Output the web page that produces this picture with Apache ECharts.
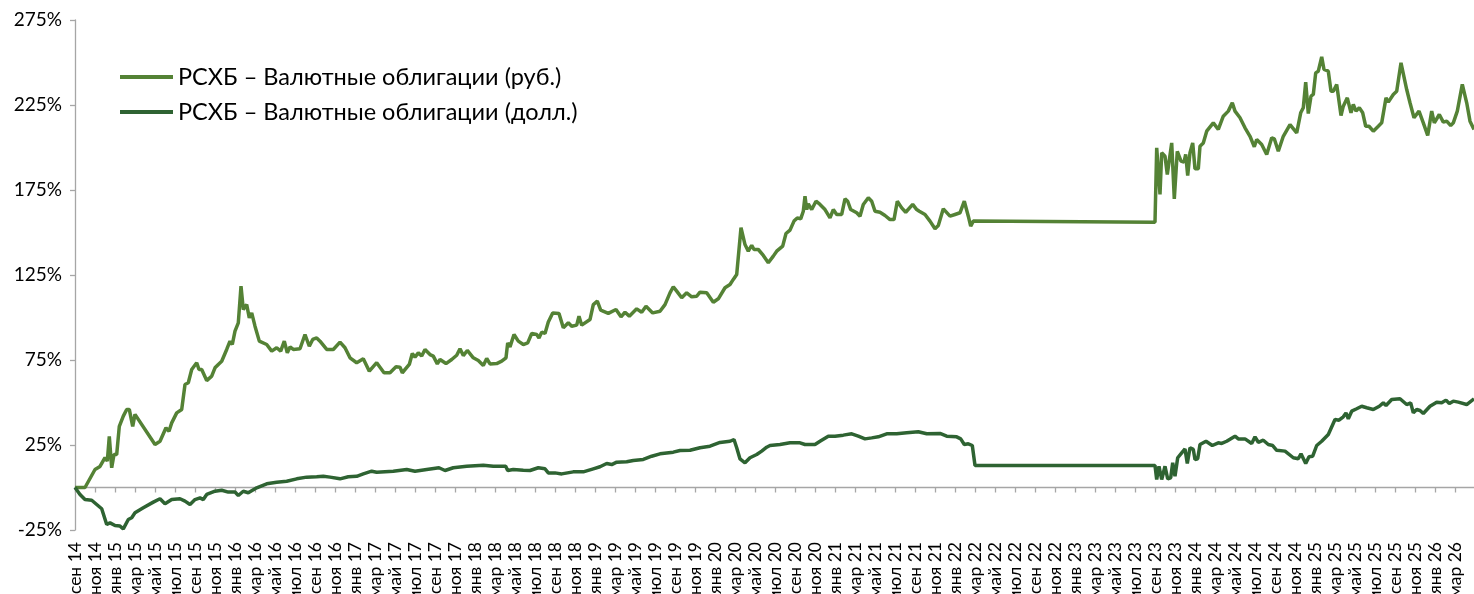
<!DOCTYPE html>
<html>
<head>
<meta charset="utf-8">
<script src="https://cdn.jsdelivr.net/npm/echarts@6/dist/echarts.min.js"></script>
<style>
html,body{margin:0;padding:0;background:#fff;}
#c{width:1474px;height:594px;}
</style>
</head>
<body>
<div id="c"></div>
<script>
// x = months since сен 2014
const tickLabels = ["сен 14","ноя 14","янв 15","мар 15","май 15","июл 15","сен 15","ноя 15","янв 16","мар 16","май 16","июл 16","сен 16","ноя 16","янв 17","мар 17","май 17","июл 17","сен 17","ноя 17","янв 18","мар 18","май 18","июл 18","сен 18","ноя 18","янв 19","мар 19","май 19","июл 19","сен 19","ноя 19","янв 20","мар 20","май 20","июл 20","сен 20","ноя 20","янв 21","мар 21","май 21","июл 21","сен 21","ноя 21","янв 22","мар 22","май 22","июл 22","сен 22","ноя 22","янв 23","мар 23","май 23","июл 23","сен 23","ноя 23","янв 24","мар 24","май 24","июл 24","сен 24","ноя 24","янв 25","мар 25","май 25","июл 25","сен 25","ноя 25","янв 26","мар 26"];
const seriesNames = ["РСХБ – Валютные облигации (руб.)","РСХБ – Валютные облигации (долл.)"];
const rubData = [[0,0],[1,0],[2,10.6],[2.5,12.4],[3,17.6],[3.23,15.5],[3.43,30],[3.67,11.6],[3.9,19.4],[4.17,19.4],[4.43,36],[4.83,42],[5.17,45.9],[5.43,45.9],[5.77,36],[6.0,43],[8.0,25.3],[8.5,27.2],[9.1,35.1],[9.4,33.1],[9.67,38],[10.17,43.9],[10.67,45.9],[11.0,60.6],[11.33,61.6],[11.67,69.4],[12.17,73.4],[12.4,69.4],[12.67,69.4],[13.17,62.9],[13.67,65.5],[14.0,70.4],[14.33,72.4],[14.67,74.3],[15.17,81.2],[15.5,86.1],[15.73,84.1],[16.0,92],[16.33,96.9],[16.6,118.4],[16.83,104.7],[17.17,107.6],[17.43,99.8],[17.67,102.7],[18.0,94.9],[18.43,86.1],[19.17,84.1],[19.67,80.2],[20.17,82.2],[20.57,80.2],[20.93,86.1],[21.23,79.2],[21.5,82.7],[21.83,81.2],[22.5,81.6],[23.0,90],[23.43,83.1],[23.77,87.1],[24.17,88],[24.5,86.1],[25.17,81.2],[25.83,81.2],[26.5,85.5],[27.0,82.2],[27.5,76.3],[28.17,73.4],[28.83,75.7],[29.0,75.3],[29.43,68.4],[30.17,73.4],[30.9,67.5],[31.5,67.5],[32.1,71],[32.5,70.8],[32.73,67.5],[33.43,72.4],[33.73,78.8],[34.0,76.7],[34.33,79.2],[34.67,77.3],[35.0,81.2],[35.5,78.2],[35.83,77.3],[36.23,72.7],[36.5,75.3],[37.1,72.9],[37.67,75.3],[38.17,77.8],[38.5,81.6],[38.83,77.6],[39.23,80.6],[39.83,76.3],[40.33,74.7],[40.83,71.8],[41.17,75.9],[41.5,72.7],[42.17,72.9],[42.67,74.3],[43.1,76.3],[43.27,85.1],[43.5,82.7],[43.9,90],[44.33,86.1],[44.83,84.1],[45.27,85.1],[45.67,90.6],[46.17,90],[46.4,88],[46.67,91.4],[47.0,90.6],[47.33,97.3],[47.77,102.7],[48.4,102.4],[48.83,93.9],[49.33,96.9],[49.67,94.9],[50.17,95.5],[50.4,100.8],[50.67,95.5],[51.5,98.8],[51.83,107.6],[52.23,109.6],[52.57,104.3],[53.33,102.4],[54.1,104.7],[54.6,100.4],[55.0,103.1],[55.43,100.8],[56.17,105.1],[56.67,103.1],[57.1,106.6],[57.77,102.7],[58.5,103.7],[59.0,107.6],[59.5,114.5],[59.83,118.1],[60.17,115.5],[60.67,111.6],[61.17,114.5],[61.67,112.2],[62.17,112.5],[62.5,114.9],[63.17,114.5],[63.83,109],[64.33,111],[65.0,117.5],[65.5,119.4],[65.83,122.4],[66.17,125.3],[66.6,152.8],[67.0,142.9],[67.33,139],[67.67,142.5],[67.9,140],[68.33,140],[68.83,136.5],[69.33,132.2],[69.83,136.1],[70.17,139],[70.77,142],[71.1,149.4],[71.5,151.4],[71.9,156.7],[72.23,158.6],[72.57,158],[72.83,162.5],[73.0,171.4],[73.17,163.5],[73.33,166.9],[73.67,163.5],[74.1,168.4],[74.5,166.5],[75.0,163.5],[75.5,158.6],[75.83,163.5],[76.17,160.6],[76.67,160.6],[77.0,169.8],[77.27,168.4],[77.57,163.5],[78.17,161.6],[78.5,159.6],[78.83,166.5],[79.33,170.4],[79.67,168.4],[80.0,162.5],[80.5,161.9],[81.0,160],[81.5,157.6],[81.9,157.6],[82.23,168.4],[82.67,164.5],[83.07,161.9],[83.77,166.5],[84.17,163.5],[84.43,162.5],[85.0,160.6],[85.5,156.7],[86.0,152.2],[86.33,154.1],[86.83,163.9],[87.5,159.6],[88.0,160.6],[88.5,161.6],[88.93,168.4],[89.33,159.6],[89.57,153.7],[89.83,156.7],[90.0,156],[108.0,156],[108.17,199.8],[108.5,172.4],[108.67,196.9],[109.0,194.9],[109.23,184.1],[109.43,185.1],[109.67,202.7],[109.93,169.8],[110.23,197.8],[110.6,192],[110.9,191.4],[111.07,195.9],[111.27,183.5],[111.5,196.9],[111.77,202.7],[112.0,187.5],[112.33,187.5],[112.5,200.8],[112.83,202.7],[113.17,209.6],[113.83,214.5],[114.33,210.6],[114.83,218.4],[115.33,221.4],[115.73,226.3],[116.0,221.4],[116.5,217.5],[117.0,211.6],[117.5,206.6],[117.93,200.4],[118.17,204.7],[118.67,201.8],[119.17,195.9],[119.67,205.7],[119.93,205.1],[120.33,197.8],[120.83,206.6],[121.5,213.5],[122.17,208.6],[122.57,220.4],[122.83,223.4],[123.07,238.4],[123.33,220],[123.6,230.2],[123.83,231.2],[124.07,243.9],[124.33,244.9],[124.67,253.3],[124.9,245.9],[125.33,244.9],[125.6,233.1],[125.83,233.1],[126.17,237.1],[126.6,218.8],[126.83,224.3],[127.23,229.2],[127.6,220.4],[127.83,225.3],[128.1,221.4],[128.43,223.4],[128.77,220.4],[129.07,212.5],[129.4,212.5],[129.83,209.6],[130.33,212.5],[130.67,214.5],[131.1,229.2],[131.33,226.7],[131.83,231.2],[132.17,233.1],[132.6,249.8],[133.17,234.1],[133.5,226.3],[133.9,217.5],[134.4,221.4],[134.83,214.5],[135.27,207.1],[135.67,221.4],[135.93,214.5],[136.43,219.4],[136.83,214.9],[137.17,215.5],[137.57,212.9],[137.83,214.5],[138.23,221.4],[138.73,237.1],[139.17,226.3],[139.5,215.5],[139.9,210.6]];
const usdData = [[0,0],[0.5,-4.1],[1.0,-7.1],[1.67,-7.5],[2.17,-10],[2.67,-12.5],[3.17,-21.8],[3.5,-20.8],[4.0,-22.4],[4.5,-22.7],[4.83,-24.3],[5.33,-18.8],[5.67,-17.8],[6.0,-14.9],[6.83,-11.9],[7.83,-8.6],[8.5,-6.6],[9.0,-9.6],[9.67,-7.1],[10.5,-6.6],[11.0,-8],[11.5,-10],[12.0,-7.1],[12.5,-6.1],[12.83,-7.1],[13.17,-4.1],[14.0,-2.2],[14.67,-1.6],[15.33,-2.7],[16.0,-2.7],[16.33,-4.7],[16.83,-2.2],[17.33,-3.1],[18.17,-0.2],[19.17,2.2],[20.17,3.1],[21.17,3.7],[22.17,5.1],[23.17,6.1],[24.17,6.3],[24.83,6.6],[25.5,6.1],[26.5,5.1],[27.33,6.3],[28.17,6.6],[28.83,8],[29.67,9.6],[30.17,9],[31.83,9.6],[33.17,10.6],[34.0,9.6],[35.17,10.6],[36.4,11.6],[37.0,10],[37.83,11.6],[39.17,12.5],[40.83,13.1],[41.83,12.5],[43.07,12.5],[43.27,10],[43.83,10.6],[44.83,10.2],[45.5,10],[46.33,11.6],[47.0,11],[47.33,8.6],[48.0,8.6],[48.67,8],[49.83,9.2],[50.83,9.2],[51.83,11],[52.5,12.2],[53.17,14.1],[53.67,13.5],[54.17,14.9],[55.17,15.1],[55.83,15.9],[56.83,16.5],[57.67,18.4],[58.5,19.8],[59.83,20.8],[60.5,21.8],[61.5,21.9],[62.5,23.4],[63.5,24.3],[64.5,26.5],[65.5,27.2],[65.9,28.2],[66.17,23.4],[66.5,16.8],[67.0,14.5],[67.5,17.5],[68.17,19.4],[68.67,21.4],[69.17,23.7],[69.5,24.7],[70.5,25.3],[71.5,26.3],[72.5,26.3],[73.0,25.3],[74.0,25.3],[74.5,27.2],[75.33,30.2],[76.0,30.2],[76.83,30.8],[77.67,31.6],[78.33,30.2],[79.0,28.6],[79.67,29.2],[80.33,29.8],[81.17,31.6],[82.17,31.6],[83.17,32.2],[84.33,32.8],[85.17,31.6],[86.5,31.8],[87.17,30.2],[88.17,29.8],[88.57,28.6],[88.93,25.3],[89.33,25.7],[89.73,24.7],[90.0,12.9],[108.0,12.9],[108.17,4.7],[108.4,12.5],[108.67,4.7],[109.0,12.5],[109.27,5.1],[109.57,5.7],[109.77,14.5],[110.0,6.6],[110.27,17.5],[110.67,20.4],[111.0,22.7],[111.23,14.1],[111.5,23.4],[111.83,22.4],[112.0,16.5],[112.27,16.9],[112.5,25.3],[113.1,27.2],[113.73,24.7],[114.33,26.3],[114.67,25.9],[115.17,27.2],[116.0,30.2],[116.33,28.6],[117.0,28.6],[117.67,25.9],[118.0,29.8],[118.33,26.6],[118.83,27.8],[119.33,25.3],[119.77,24.7],[120.17,21.9],[121.0,21.4],[121.83,17.5],[122.33,16.9],[122.6,19.8],[123.07,14.1],[123.4,18.1],[123.77,18.4],[124.17,24.7],[124.67,27.2],[125.33,31.2],[126.0,40],[126.4,39.6],[126.83,41.6],[127.1,43.9],[127.33,40.4],[127.67,44.9],[128.17,46.3],[128.67,47.8],[129.17,46.9],[129.83,45.9],[130.43,47.8],[130.83,49.8],[131.1,48.2],[131.67,51.8],[132.5,52.2],[133.17,48.8],[133.57,49.8],[133.83,43.9],[134.17,45.9],[134.5,45.3],[134.83,43.5],[135.5,47.8],[136.17,50.2],[136.67,49.8],[137.1,51.4],[137.43,49.4],[137.83,50.8],[138.33,50.2],[139.17,48.8],[139.9,52.2]];
const yMin = -25, yMax = 275, yStep = 50;
const xMax = 139.9;

const tickValues = tickLabels.map((_, i) => i * 2);
const FONT = 'Lato, "Liberation Sans", sans-serif';
const AXIS_GRAY = '#A6A6A6';

const chart = echarts.init(document.getElementById('c'), null, {renderer: 'canvas'});
chart.setOption({
  animation: false,
  backgroundColor: '#fff',
  textStyle: {fontFamily: FONT},
  grid: {left: 75, right: 0, top: 20, bottom: 64, containLabel: false, outerBoundsMode: 'none'},
  legend: {
    orient: 'vertical', left: 120, top: 65, padding: 0,
    itemWidth: 53, itemHeight: 4, itemGap: 11,
    icon: 'rect',
    textStyle: {fontFamily: FONT, fontSize: 23.5, color: '#000', lineHeight: 24},
    data: seriesNames
  },
  xAxis: [{
    type: 'value', min: 0, max: xMax, interval: 2,
    axisLine: {onZero: true, lineStyle: {color: AXIS_GRAY, width: 1.3}},
    axisTick: {show: true, length: 5, customValues: tickValues, lineStyle: {color: AXIS_GRAY, width: 1.3}},
    axisLabel: {show: false},
    splitLine: {show: false}
  }, {
    type: 'value', min: 0, max: xMax, interval: 2, position: 'bottom',
    axisLine: {show: false, onZero: false},
    axisTick: {show: false},
    axisLabel: {
      show: true, rotate: 90, margin: 12, fontSize: 17.5, color: '#000', fontFamily: FONT,
      customValues: tickValues,
      formatter: v => (Math.abs(v - Math.round(v)) < 1e-6 && Math.round(v) % 2 === 0) ? (tickLabels[Math.round(v) / 2] || '') : ''
    },
    splitLine: {show: false}
  }],
  yAxis: {
    type: 'value', min: yMin, max: yMax, interval: yStep,
    axisLine: {show: true, lineStyle: {color: AXIS_GRAY, width: 1.3}},
    axisTick: {show: true, length: 5, lineStyle: {color: AXIS_GRAY, width: 1.3}},
    axisLabel: {formatter: '{value}%', fontSize: 19, color: '#000', margin: 13, fontFamily: FONT},
    splitLine: {show: false}
  },
  series: [{
    name: seriesNames[0], type: 'line', xAxisIndex: 0, data: rubData,
    showSymbol: false, symbol: 'none',
    lineStyle: {color: '#548235', width: 3.5}, itemStyle: {color: '#548235'}, z: 3
  }, {
    name: seriesNames[1], type: 'line', xAxisIndex: 0, data: usdData,
    showSymbol: false, symbol: 'none',
    lineStyle: {color: '#2E6332', width: 3.5}, itemStyle: {color: '#2E6332'}, z: 4
  }]
});
</script>
</body>
</html>
